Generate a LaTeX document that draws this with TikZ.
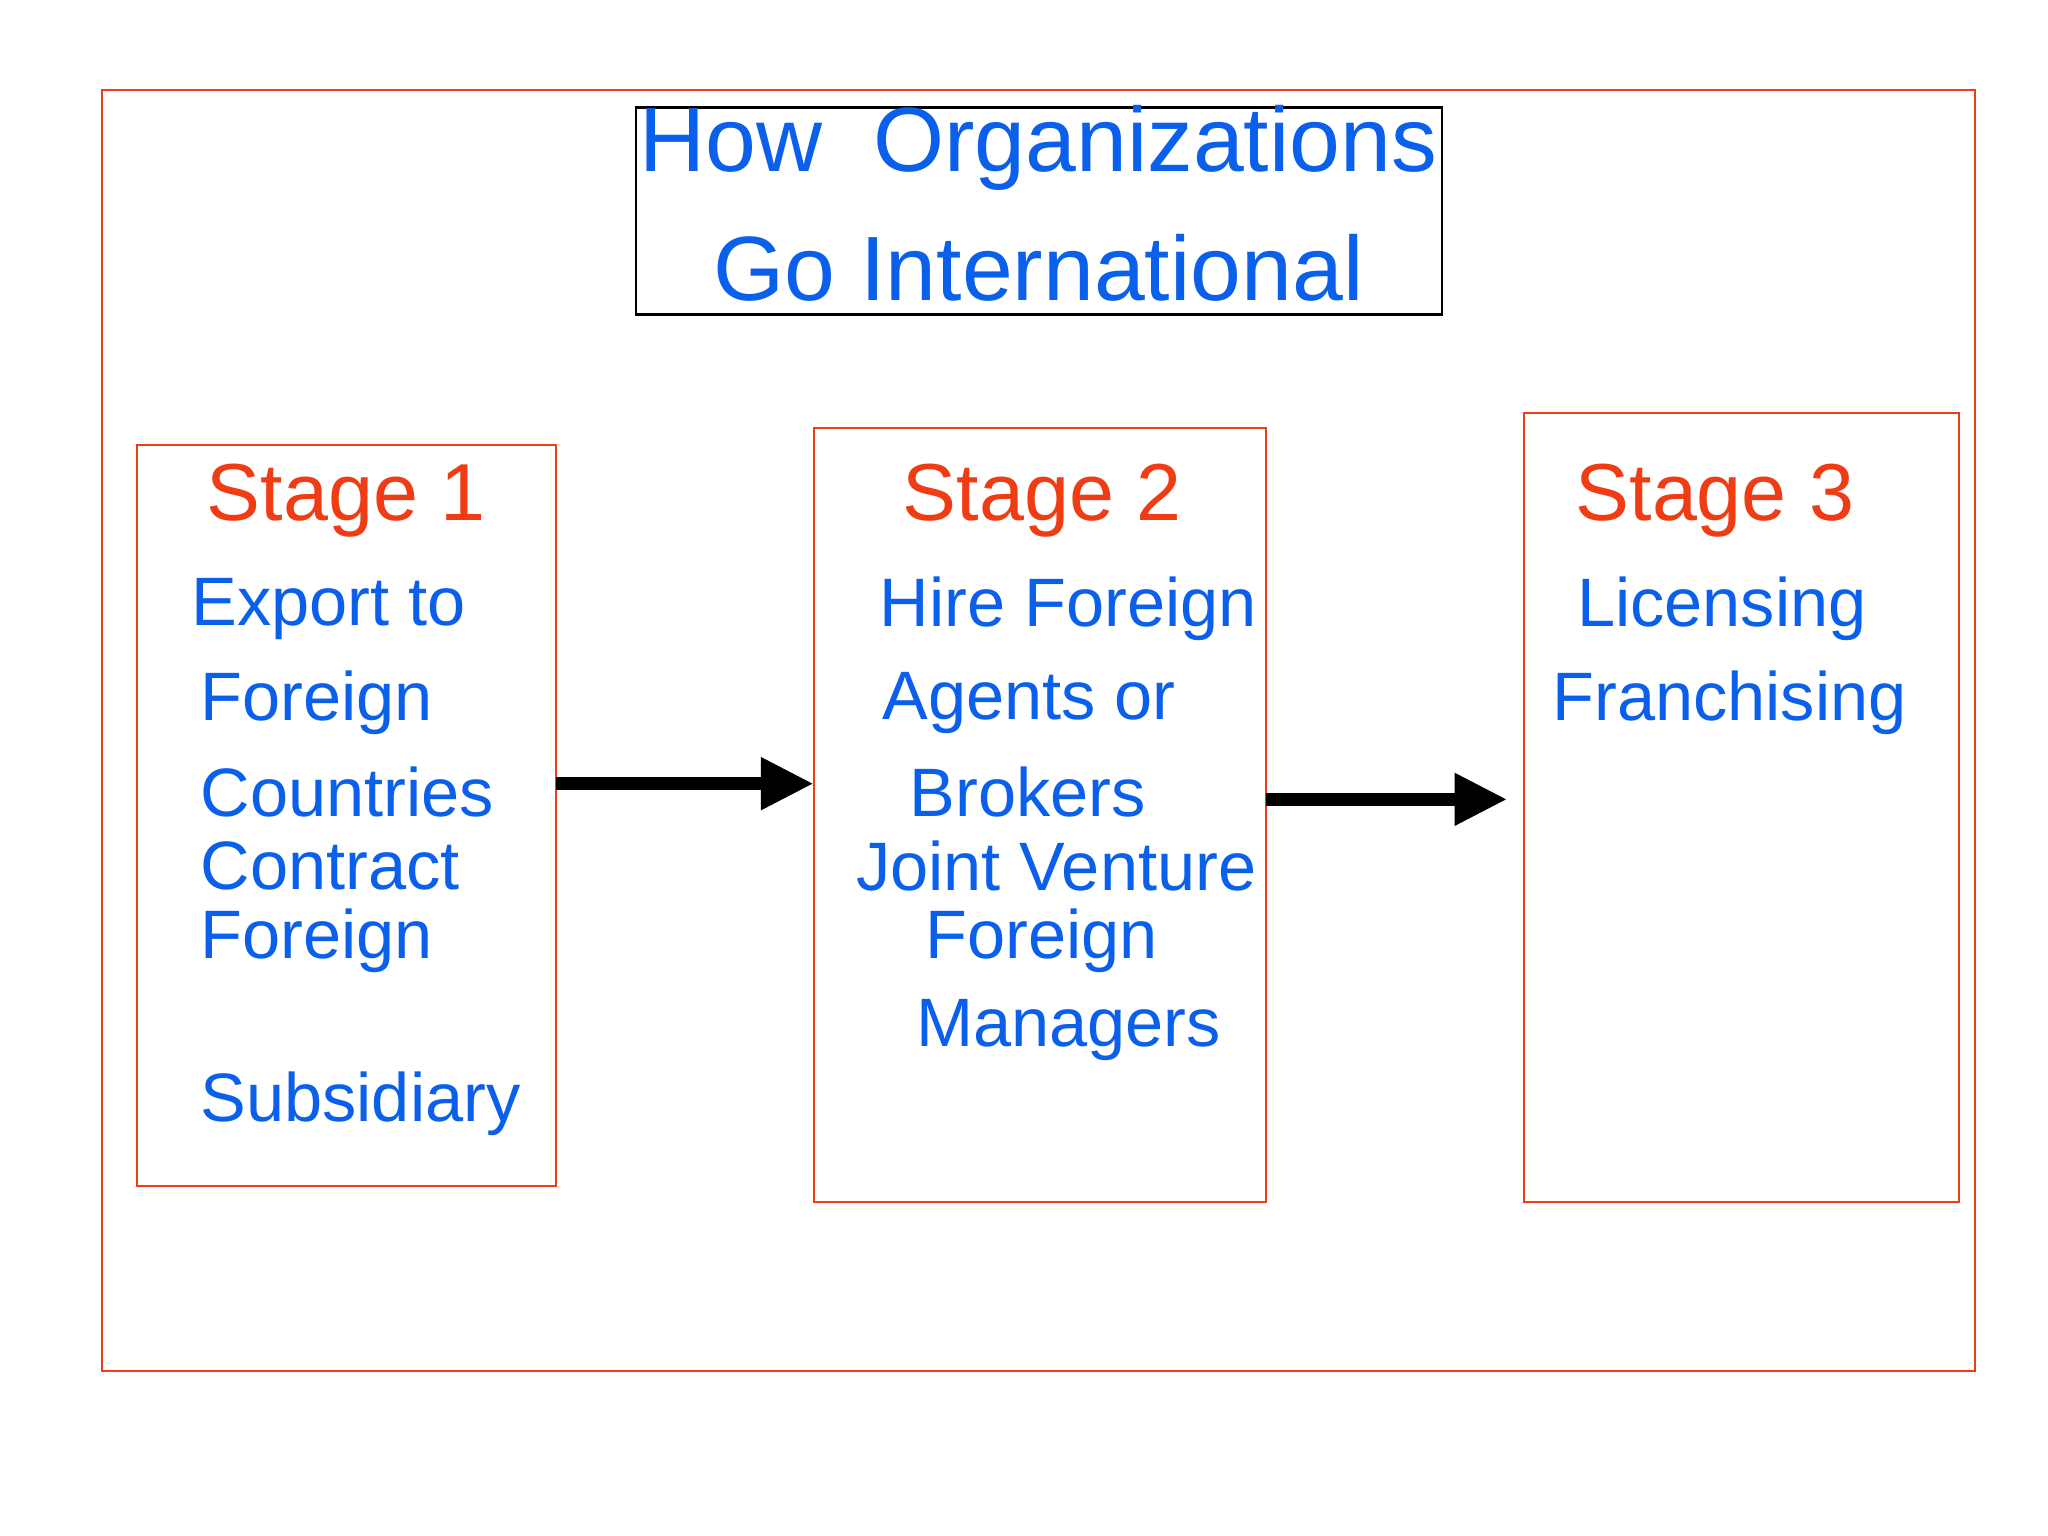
\documentclass[tikz,border=0pt]{standalone}
\usepackage{fontspec}
\setmainfont{Liberation Sans}
\usetikzlibrary{arrows.meta}
\definecolor{tblue}{RGB}{10,95,235}
\definecolor{tred}{RGB}{240,60,20}
\tikzset{
 box/.style={draw=tred,line width=0.6pt},
 stg/.style={text=tred,font=\fontsize{23}{26}\selectfont},
 body/.style={text=tblue,font=\fontsize{19.5}{22}\selectfont,anchor=west,inner sep=0},
 ttl/.style={text=tblue,font=\fontsize{26}{30}\selectfont,inner sep=0},
 arr/.style={line width=3.7pt,-{Triangle[length=15pt,width=14pt]}}
}
\begin{document}
\begin{tikzpicture}[x=0.01306cm,y=-0.01306cm]
\useasboundingbox (0,0) rectangle (1568,1176);
\draw[box] (78,69) rectangle (1512,1050);
\draw[line width=0.8pt] (487,82) rectangle (1104,241);
\node[ttl] (t1) at (795,113) {How\ \ Organizations};
\node[ttl] (t2) at (795,205) {Go International};
\draw[box] (105,341) rectangle (426,908);
\draw[box] (623,328) rectangle (969,920);
\draw[box] (1167,316) rectangle (1500,920);
\coordinate (b1r) at (426,600); \coordinate (b2l) at (623,600);
\coordinate (b2r) at (969,612); \coordinate (b3l) at (1154,612);
\node[stg] (s1) at (265,383) {Stage 1};
\node[stg] (s2) at (798,383) {Stage 2};
\node[stg] (s3) at (1313,383) {Stage 3};
\node[body] (a1) at (146,466) {Export to};
\node[body] (a2) at (153,538) {Foreign};
\node[body] (a3) at (153,606) {Countries};
\node[body] (a4) at (153,663) {Contract};
\node[body] (a5) at (153,720) {Foreign};
\node[body] (a6) at (153,845) {Subsidiary};
\node[body] (b1) at (673,466) {Hire Foreign};
\node[body] (b2) at (675,538) {Agents or};
\node[body] (b3) at (696,606) {Brokers};
\node[body] (b4) at (655,663) {Joint Venture};
\node[body] (b5) at (708,720) {Foreign};
\node[body] (b6) at (701,789) {Managers};
\node[body] (c1) at (1207,466) {Licensing};
\node[body] (c2) at (1188,538) {Franchising};
\draw[arr] (b1r) -- (b2l);
\draw[arr] (b2r) -- (b3l);
\end{tikzpicture}
\end{document}
